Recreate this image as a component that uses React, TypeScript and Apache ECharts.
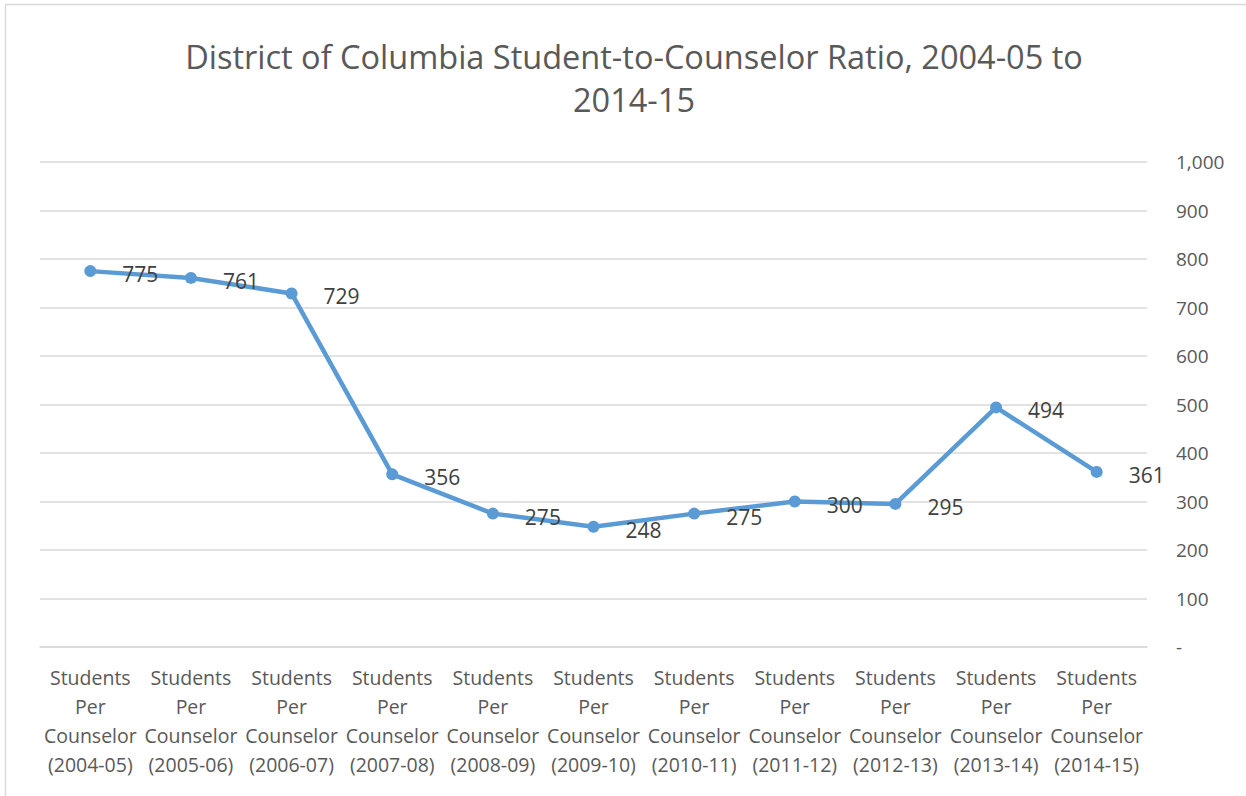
import React, { useEffect, useRef } from "react";
import * as echarts from "echarts";

const categories = [
  "(2004-05)", "(2005-06)", "(2006-07)", "(2007-08)", "(2008-09)", "(2009-10)",
  "(2010-11)", "(2011-12)", "(2012-13)", "(2013-14)", "(2014-15)",
];
const ratios = [775, 761, 729, 356, 275, 248, 275, 300, 295, 494, 361];
const yTicks = { min: 0, max: 1000, interval: 100 };
const titleText = "District of Columbia Student-to-Counselor Ratio, 2004-05 to\n2014-15";
const FONT = "'Open Sans', 'Noto Sans', sans-serif";

export default function App() {
  const ref = useRef<HTMLDivElement>(null);
  useEffect(() => {
    if (!ref.current) return;
    const chart = echarts.init(ref.current, undefined, { renderer: "svg" });
    chart.setOption({
      animation: false,
      backgroundColor: "#ffffff",
      title: {
        text: titleText,
        left: 629,
        textAlign: "center",
        top: 30,
        textStyle: {
          fontFamily: FONT,
          fontSize: 32.5,
          fontWeight: "normal",
          color: "#595959",
          lineHeight: 43,
        },
      },
      graphic: [
        { type: "line", shape: { x1: 5.5, y1: 4.5, x2: 5.5, y2: 796 }, style: { stroke: "#d9d9d9", lineWidth: 1.5 } },
        { type: "line", shape: { x1: 5.5, y1: 4.5, x2: 1246, y2: 4.5 }, style: { stroke: "#d9d9d9", lineWidth: 1.5 } },
      ],
      grid: { left: 40, right: 99, top: 162, bottom: 149, containLabel: false },
      xAxis: {
        type: "category",
        data: categories,
        boundaryGap: true,
        axisLine: { show: true, lineStyle: { color: "#d9d9d9", width: 1.5 } },
        axisTick: { show: false },
        axisLabel: {
          interval: 0,
          margin: 16,
          fontFamily: FONT,
          fontSize: 19.5,
          lineHeight: 29,
          color: "#595959",
          align: "center",
          formatter: (v: string) => "Students\nPer\nCounselor\n" + v,
        },
      },
      yAxis: {
        type: "value",
        position: "right",
        min: yTicks.min,
        max: yTicks.max,
        interval: yTicks.interval,
        axisLine: { show: false },
        axisTick: { show: false },
        splitLine: { lineStyle: { color: "#d9d9d9", width: 1.5 } },
        axisLabel: {
          margin: 29,
          fontFamily: FONT,
          fontSize: 19,
          color: "#595959",
          formatter: (v: number) => (v === 0 ? "-" : v.toLocaleString("en-US")),
        },
      },
      series: [
        {
          type: "line",
          data: ratios,
          symbol: "circle",
          symbolSize: 12,
          lineStyle: { color: "#5B9BD5", width: 4.5 },
          itemStyle: { color: "#5B9BD5" },
          label: {
            show: true,
            position: "right",
            distance: 26,
            offset: [0, 3],
            fontFamily: FONT,
            fontSize: 21,
            color: "#404040",
          },
        },
      ],
    });
    return () => chart.dispose();
  }, []);
  return (
    <div
      ref={ref}
      style={{ position: "fixed", left: 0, top: 0, width: 1246, height: 796 }}
    />
  );
}
